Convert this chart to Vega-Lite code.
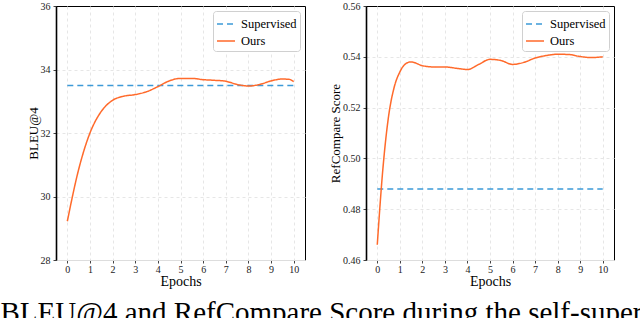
{
  "$schema": "https://vega.github.io/schema/vega-lite/v6.json",
  "padding": {"left": 0, "top": 0, "right": 5, "bottom": 0},
  "background": "white",
  "spacing": 23,
  "title": {"text": "BLEU@4 and RefCompare Score during the self-supervised training", "orient": "bottom", "anchor": "start", "font": "Liberation Serif", "fontSize": 29, "fontWeight": "normal", "color": "black", "offset": 10, "dx": -26},
  "config": {
    "view": {"stroke": "black", "strokeWidth": 1},
    "axis": {"labelFont": "Liberation Serif", "titleFont": "Liberation Serif", "labelFontSize": 10, "titleFontSize": 13, "titleFontWeight": "normal", "labelColor": "#222", "titleColor": "black", "gridColor": "#e6e6e6", "gridDash": [3, 3], "tickColor": "#444", "tickSize": 3},
    "legend": {"labelFont": "Liberation Serif", "labelFontSize": 12.5, "labelColor": "black"}
  },
  "datasets": {
    "bleu": [
      {"epoch": 0, "value": 33.5, "series": "Supervised"},
      {"epoch": 10, "value": 33.5, "series": "Supervised"},
      {"epoch": 0, "value": 29.22, "series": "Ours"},
      {"epoch": 0.5, "value": 30.85, "series": "Ours"},
      {"epoch": 1, "value": 32.0, "series": "Ours"},
      {"epoch": 1.5, "value": 32.68, "series": "Ours"},
      {"epoch": 2, "value": 33.03, "series": "Ours"},
      {"epoch": 2.5, "value": 33.16, "series": "Ours"},
      {"epoch": 3, "value": 33.21, "series": "Ours"},
      {"epoch": 3.5, "value": 33.3, "series": "Ours"},
      {"epoch": 4, "value": 33.46, "series": "Ours"},
      {"epoch": 4.5, "value": 33.64, "series": "Ours"},
      {"epoch": 5, "value": 33.72, "series": "Ours"},
      {"epoch": 5.5, "value": 33.72, "series": "Ours"},
      {"epoch": 6, "value": 33.68, "series": "Ours"},
      {"epoch": 6.5, "value": 33.66, "series": "Ours"},
      {"epoch": 7, "value": 33.63, "series": "Ours"},
      {"epoch": 7.5, "value": 33.53, "series": "Ours"},
      {"epoch": 8, "value": 33.48, "series": "Ours"},
      {"epoch": 8.5, "value": 33.53, "series": "Ours"},
      {"epoch": 9, "value": 33.64, "series": "Ours"},
      {"epoch": 9.5, "value": 33.7, "series": "Ours"},
      {"epoch": 9.8, "value": 33.69, "series": "Ours"},
      {"epoch": 10, "value": 33.62, "series": "Ours"}
    ],
    "ref": [
      {"epoch": 0, "value": 0.488, "series": "Supervised"},
      {"epoch": 10, "value": 0.488, "series": "Supervised"},
      {"epoch": 0, "value": 0.466, "series": "Ours"},
      {"epoch": 0.25, "value": 0.496, "series": "Ours"},
      {"epoch": 0.5, "value": 0.5165, "series": "Ours"},
      {"epoch": 0.75, "value": 0.528, "series": "Ours"},
      {"epoch": 1, "value": 0.534, "series": "Ours"},
      {"epoch": 1.25, "value": 0.5372, "series": "Ours"},
      {"epoch": 1.5, "value": 0.538, "series": "Ours"},
      {"epoch": 2, "value": 0.5365, "series": "Ours"},
      {"epoch": 2.5, "value": 0.536, "series": "Ours"},
      {"epoch": 3, "value": 0.536, "series": "Ours"},
      {"epoch": 3.5, "value": 0.5355, "series": "Ours"},
      {"epoch": 4, "value": 0.535, "series": "Ours"},
      {"epoch": 4.5, "value": 0.537, "series": "Ours"},
      {"epoch": 5, "value": 0.539, "series": "Ours"},
      {"epoch": 5.5, "value": 0.5385, "series": "Ours"},
      {"epoch": 6, "value": 0.537, "series": "Ours"},
      {"epoch": 6.5, "value": 0.5378, "series": "Ours"},
      {"epoch": 7, "value": 0.5395, "series": "Ours"},
      {"epoch": 7.5, "value": 0.5405, "series": "Ours"},
      {"epoch": 8, "value": 0.541, "series": "Ours"},
      {"epoch": 8.5, "value": 0.5409, "series": "Ours"},
      {"epoch": 9, "value": 0.5401, "series": "Ours"},
      {"epoch": 9.5, "value": 0.5397, "series": "Ours"},
      {"epoch": 10, "value": 0.54, "series": "Ours"}
    ]
  },
  "hconcat": [
    {
      "width": 249,
      "height": 254,
      "data": {"name": "bleu"},
      "mark": {"type": "line", "interpolate": "monotone", "strokeWidth": 1.5},
      "encoding": {
        "x": {"field": "epoch", "type": "quantitative", "scale": {"domain": [-0.5, 10.5], "nice": false, "zero": false}, "axis": {"values": [0,1,2,3,4,5,6,7,8,9,10], "title": "Epochs", "labelFont": "Liberation Serif", "titleFont": "Liberation Serif", "titleFontWeight": "normal", "titleFontSize": 14, "domainColor": "#dddddd", "tickSize": 3, "labelPadding": 1, "titlePadding": 0}},
        "y": {"field": "value", "type": "quantitative", "scale": {"domain": [28, 36], "nice": false, "zero": false}, "axis": {"values": [28,30,32,34,36], "title": "BLEU@4", "labelFont": "Liberation Serif", "titleFont": "Liberation Serif", "titleFontWeight": "normal", "gridColor": {"condition": {"test": "datum.value >= 36", "value": "transparent"}, "value": "#e6e6e6"}, "domainColor": "black", "domainWidth": 1.6, "labelPadding": 3, "titlePadding": 0}},
        "color": {"field": "series", "type": "nominal", "scale": {"domain": ["Supervised", "Ours"], "range": ["#3d9ad8", "#ff6a2b"]}, "legend": {"title": null, "orient": "top-right", "offset": 5, "fillColor": "white", "strokeColor": "#d0d0d0", "cornerRadius": 3, "padding": 3, "symbolType": "stroke", "symbolSize": 324, "symbolStrokeWidth": 1.6, "rowPadding": -1, "labelOffset": 5, "labelFont": "Liberation Serif"}},
        "strokeDash": {"field": "series", "type": "nominal", "scale": {"domain": ["Supervised", "Ours"], "range": [[6, 4], [1, 0]]}, "legend": {"title": null, "orient": "top-right", "offset": 5, "fillColor": "white", "strokeColor": "#d0d0d0", "cornerRadius": 3, "padding": 3, "symbolType": "stroke", "symbolSize": 324, "symbolStrokeWidth": 1.6, "rowPadding": -1, "labelOffset": 5, "labelFont": "Liberation Serif"}}
      }
    },
    {
      "width": 248,
      "height": 254,
      "data": {"name": "ref"},
      "mark": {"type": "line", "interpolate": "monotone", "strokeWidth": 1.5},
      "encoding": {
        "x": {"field": "epoch", "type": "quantitative", "scale": {"domain": [-0.5, 10.5], "nice": false, "zero": false}, "axis": {"values": [0,1,2,3,4,5,6,7,8,9,10], "title": "Epochs", "labelFont": "Liberation Serif", "titleFont": "Liberation Serif", "titleFontWeight": "normal", "titleFontSize": 14, "domainColor": "#dddddd", "tickSize": 3, "labelPadding": 1, "titlePadding": 0}},
        "y": {"field": "value", "type": "quantitative", "scale": {"domain": [0.46, 0.56], "nice": false, "zero": false}, "axis": {"values": [0.46,0.48,0.5,0.52,0.54,0.56], "format": ".2f", "title": "RefCompare Score", "labelFont": "Liberation Serif", "titleFont": "Liberation Serif", "titleFontWeight": "normal", "gridColor": {"condition": {"test": "datum.value >= 0.559", "value": "transparent"}, "value": "#e6e6e6"}, "domainColor": "black", "domainWidth": 1.6, "labelPadding": 3, "titlePadding": 0}},
        "color": {"field": "series", "type": "nominal", "scale": {"domain": ["Supervised", "Ours"], "range": ["#3d9ad8", "#ff6a2b"]}, "legend": {"title": null, "orient": "top-right", "offset": 5, "fillColor": "white", "strokeColor": "#d0d0d0", "cornerRadius": 3, "padding": 3, "symbolType": "stroke", "symbolSize": 324, "symbolStrokeWidth": 1.6, "rowPadding": -1, "labelOffset": 5, "labelFont": "Liberation Serif"}},
        "strokeDash": {"field": "series", "type": "nominal", "scale": {"domain": ["Supervised", "Ours"], "range": [[6, 4], [1, 0]]}, "legend": {"title": null, "orient": "top-right", "offset": 5, "fillColor": "white", "strokeColor": "#d0d0d0", "cornerRadius": 3, "padding": 3, "symbolType": "stroke", "symbolSize": 324, "symbolStrokeWidth": 1.6, "rowPadding": -1, "labelOffset": 5, "labelFont": "Liberation Serif"}}
      }
    }
  ],
  "resolve": {"scale": {"color": "independent", "strokeDash": "independent"}, "legend": {"color": "independent", "strokeDash": "independent"}}
}
